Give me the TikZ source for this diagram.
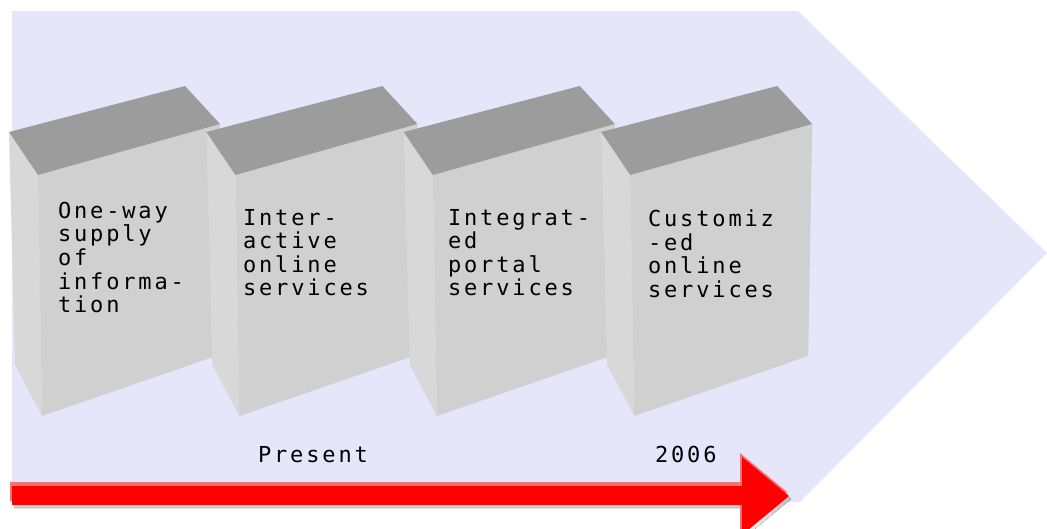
\documentclass[tikz,border=0pt]{standalone}
\usepackage{fontspec}
\newfontfamily\gfont[LetterSpace=13]{DejaVu Sans Mono}
\definecolor{lav}{RGB}{230,230,250}
\definecolor{topgray}{RGB}{156,156,156}
\definecolor{frontgray}{RGB}{208,208,208}
\definecolor{leftgray}{RGB}{216,216,216}
\definecolor{hilite}{RGB}{255,110,110}
\definecolor{shade}{RGB}{165,0,0}
\tikzset{
  lbl/.style={inner sep=0pt, outer sep=0pt, align=left, anchor=north west,
    font=\gfont\fontsize{22}{23.6}\selectfont},
  topface/.style={fill=topgray},
  frontface/.style={fill=frontgray},
  leftface/.style={fill=leftgray},
}
\newcommand\cubebox[1]{%
  \begin{scope}[shift={(#1,132)}]
    \fill[leftface] (0,0) -- (29,43) -- (33,284) -- (6,233) -- cycle;
    \fill[frontface] (29,43) -- (211,-8) -- (207,224) -- (33,284) -- cycle;
    \fill[topface] (0,0) -- (176,-46) -- (211,-8) -- (29,43) -- cycle;
  \end{scope}}
\begin{document}
\begin{tikzpicture}[x=1pt,y=-1pt]
\useasboundingbox (0,0) rectangle (1047,528);
\clip (0,0) rectangle (1047,528);
% background chevron
\fill[lav] (12,11) -- (798,11) -- (1047,253) -- (800,502) -- (12,502) -- cycle;
% boxes
\cubebox{9}
\cubebox{206.4}
\cubebox{403.8}
\cubebox{601.2}
% texts
\node[lbl] (t1) at (58,202) {One-way\\supply\\of\\informa-\\tion};
\node[lbl] (t2) at (243,209) {Inter-\\active\\online\\services};
\node[lbl] (t3) at (448,209) {Integrat-\\ed\\portal\\services};
\node[lbl] (t4) at (648,210) {Customiz\\-ed\\online\\services};
\node[lbl] (pres) at (258,446) {Present};
\node[lbl] (yr) at (655,446) {2006};
% red arrow
\fill[shade] (14,489) -- (744,489) -- (744,460) -- (791,499) -- (744,538) -- (744,508) -- (14,508) -- cycle;
\fill[hilite] (10,482) -- (740,482) -- (740,453) -- (787,492) -- (740,531) -- (740,501) -- (10,501) -- cycle;
\fill[red] (12,486) -- (742,486) -- (742,457) -- (789,496) -- (742,535) -- (742,505) -- (12,505) -- cycle;
\end{tikzpicture}
\end{document}
